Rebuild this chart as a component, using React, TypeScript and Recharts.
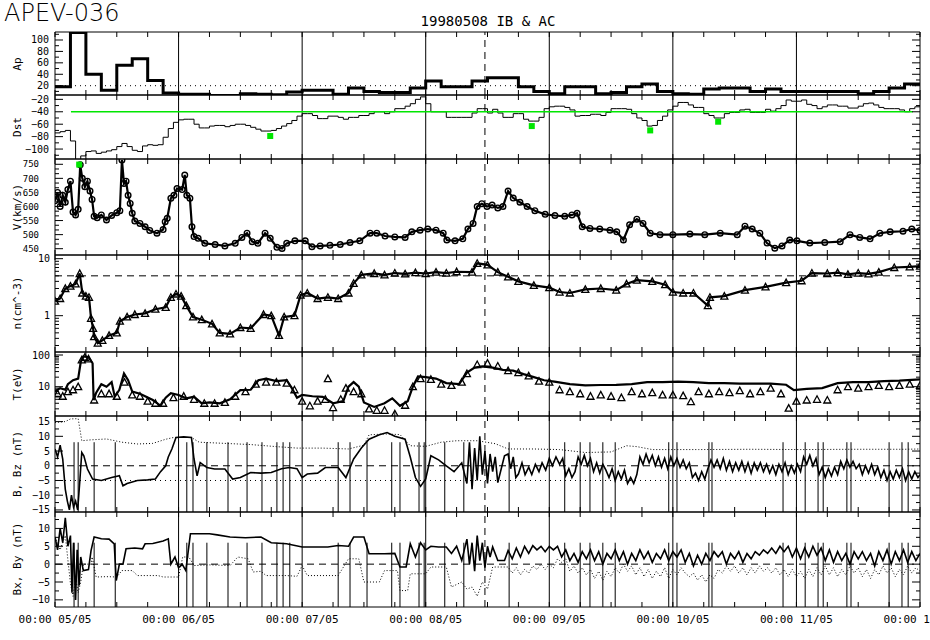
import React from 'react';
import { ComposedChart, Line, XAxis, YAxis, ReferenceLine, ReferenceArea } from 'recharts';

// ---- layout constants ----
const PLOT_L = 55;
const PLOT_R = 920;
const PAD = 3;
const HOURS = 168;
const MONO = '"DejaVu Sans Mono", "Liberation Mono", monospace';
const SANS = '"DejaVu Sans", "Liberation Sans", sans-serif';
const GREEN = '#00e600';

// ---- data (hours from 00:00 05/05) ----
const dayLabels = ['05/05', '06/05', '07/05', '08/05', '09/05', '10/05', '11/05', '12/05'];
const eventHour = 83.5;

// Ap, 3-hourly
const apValues = [18, 113, 40, 12, 56, 67, 29, 7, 5, 5, 3, 3, 6, 5, 4, 9, 12, 12, 5, 16, 10, 8, 8, 16, 28, 18, 18, 28,
  34, 34, 18, 10, 6, 18, 18, 6, 8, 18, 23, 10, 6, 5, 14, 16, 16, 10, 14, 10, 10, 10, 10, 10, 6, 10, 16, 23];

// Dst, hourly
const dstValues = [-74, -72, -70, -87, -125, -111, -104, -103, -107, -105, -103, -101, -96, -91, -96, -102, -104, -95, -93, -94,
  -93, -81, -67, -57, -53, -52, -52, -60, -66, -66, -63, -62, -62, -64, -62, -60, -60, -62, -65, -68, -71, -71, -70, -67,
  -63, -59, -54, -47, -43, -43, -46, -51, -51, -47, -47, -49, -52, -49, -49, -46, -46, -43, -40, -40, -43, -40, -35, -35,
  -31, -27, -20, -16, -27, -40, -40, -40, -49, -49, -49, -49, -49, -42, -35, -35, -42, -36, -42, -49, -49, -43, -43, -52,
  -55, -55, -49, -35, -32, -31, -31, -33, -37, -47, -46, -46, -44, -44, -46, -41, -35, -35, -35, -36, -43, -50, -54, -63,
  -62, -54, -47, -37, -31, -25, -25, -29, -33, -33, -43, -46, -50, -50, -43, -41, -41, -37, -36, -41, -41, -41, -36, -39,
  -35, -30, -21, -23, -23, -21, -28, -30, -35, -32, -29, -29, -31, -31, -34, -34, -31, -27, -26, -29, -33, -35, -35, -35,
  -37, -40, -35, -32];
const dstRefLevel = -40;
const dstRefSpan = [3.1, 166.6];
const dstMarks = [[41.8, -79], [92.6, -63], [115.6, -70], [128.8, -56]];

// solar wind speed
const vData = [[0, 620], [0.5, 650], [1, 600], [1.5, 640], [2, 615], [2.5, 660], [3, 690], [3.5, 580], [4, 570], [4.5, 590],
  [4.9, 748], [5.3, 700], [5.8, 670], [6.3, 690], [6.8, 655], [7.2, 625], [7.6, 565], [8.2, 560], [9, 570], [10, 552],
  [11, 568], [12, 578], [12.6, 585], [13, 765], [13.4, 682], [13.8, 690], [14.2, 640], [14.6, 611], [15, 576], [15.5, 548],
  [16.5, 540], [17.5, 528], [18.4, 515], [19.8, 505], [21, 518], [21.4, 546], [21.8, 558], [22.5, 629], [23.1, 640],
  [23.7, 664], [24.7, 660], [25.2, 712], [25.6, 640], [26.2, 629], [26.6, 528], [27, 493], [27.8, 487], [29.1, 469],
  [31.1, 465], [33, 460], [35, 469], [36.3, 490], [37.3, 505], [38.3, 475], [39.4, 469], [40.8, 505], [41.8, 487],
  [43.1, 455], [44.1, 451], [45, 469], [46.6, 478], [48.6, 478], [49.9, 457], [51.5, 460], [53.4, 462], [55.4, 465],
  [57.3, 472], [59.2, 478], [61.2, 505], [62.5, 505], [64.1, 495], [66, 492], [68, 490], [69.3, 510], [70.9, 516],
  [72.4, 520], [74, 516], [75.4, 505], [76.1, 481], [77.7, 478], [79.2, 485], [80.2, 520], [81.2, 540], [82, 600],
  [82.9, 610], [83.9, 600], [84.9, 605], [86, 595], [87, 600], [88, 655], [89, 630], [90.3, 615], [91.7, 600], [93.2, 585],
  [95.2, 572], [97.1, 568], [99, 565], [100.4, 570], [101.4, 576], [102.4, 528], [103.9, 522], [105.8, 520], [107.8, 516],
  [109.1, 510], [110.4, 481], [111.6, 535], [113, 555], [114.2, 540], [115.6, 505], [117.5, 500], [120, 500], [123.3, 502],
  [126.2, 500], [129.2, 505], [132.5, 500], [134, 530], [135.4, 520], [136.9, 505], [138.3, 470], [139.8, 452],
  [141.2, 460], [142.7, 481], [144.1, 478], [146.6, 470], [149.5, 472], [152.5, 475], [154.4, 500], [156.3, 490],
  [158.3, 485], [160.2, 505], [162.2, 510], [164.7, 512], [166.4, 520], [168, 515]];
const vMax = [[4.7, 749]];

// density
const nData = [[0, 1.8], [1, 2.0], [2, 3.0], [3, 3.3], [4, 3.6], [4.8, 5.5], [5.3, 2.5], [6, 2.2], [6.6, 2.1], [7, 0.9],
  [7.4, 0.6], [7.6, 0.43], [8.3, 0.33], [9.2, 0.37], [10.5, 0.45], [12, 0.5], [12.6, 0.8], [14, 0.95], [15.5, 1.05],
  [17.5, 1.1], [19.5, 1.3], [21.5, 1.4], [22.5, 2.1], [23.5, 2.4], [24.5, 2.2], [25.5, 1.5], [26.8, 0.95], [28.5, 0.85],
  [30.5, 0.72], [32, 0.5], [34, 0.48], [36, 0.62], [38, 0.6], [40.5, 1.05], [42, 1.0], [43.5, 0.45], [44.5, 0.95],
  [46.5, 1.0], [47.7, 2.3], [49, 2.5], [51, 2.0], [53, 2.1], [55, 2.0], [57, 2.5], [58, 3.7], [59.5, 5.2], [62, 5.5],
  [64, 5.2], [66, 5.6], [68, 5.4], [70, 5.7], [72, 5.5], [74, 5.8], [76, 5.6], [78, 5.9], [81, 5.8], [82, 8.3], [84, 7.8],
  [86, 5.8], [88, 4.8], [90, 4.0], [93, 3.4], [96, 3.1], [98, 2.6], [100, 2.5], [103, 2.9], [106, 3.0], [109, 2.8],
  [111, 3.6], [113, 4.2], [116, 4.0], [118.5, 3.5], [120, 2.6], [122, 2.5], [124, 2.5], [126.8, 1.5], [127.2, 2.1],
  [130, 2.2], [134, 2.8], [138, 3.2], [142, 3.8], [145, 4.1], [147, 5.6], [150, 5.5], [152, 5.7], [154, 5.3], [156, 5.6],
  [158, 5.4], [160, 5.8], [163, 7.0], [166, 7.2], [168, 7.4]];
const nRefLevel = 5;

// temperature (IB line) and AC triangles
const tData = [[0, 7], [1, 9], [2, 8], [2.5, 12], [3.5, 16], [4.5, 18], [5, 60], [5.5, 90], [6.5, 85], [7.3, 55], [7.5, 3.8],
  [8, 6.5], [9, 12], [10, 10], [11, 14], [11.6, 4.8], [12.5, 8], [13.4, 26], [14.2, 16], [15, 7], [16.5, 6], [17.5, 5],
  [19, 3.8], [20.5, 2.5], [21.5, 4.5], [22.5, 6.2], [24, 5.5], [25.5, 4.3], [27, 4.8], [28.5, 3], [30, 3.2], [32, 3.0],
  [34, 4], [36, 7.8], [38, 8], [39.5, 16], [41, 18], [43, 15], [45, 16], [46, 9], [47, 4.5], [48, 5.5], [50, 5], [52, 4.8],
  [54, 3], [56, 3.5], [57, 10], [58, 14], [59, 10], [60, 3.2], [62, 2.3], [64, 3], [65.5, 4.3], [67, 2.5], [68.5, 3.5],
  [69.5, 10], [70.5, 21], [72, 20], [74, 18], [76, 13], [78.5, 12], [80, 28], [81.5, 40], [83, 44], [85, 40], [87, 34],
  [89, 32], [91, 25], [93, 20], [95, 16], [97, 14.5], [100, 12], [103, 11], [106, 11.3], [109, 11.5], [112, 12], [115, 14],
  [118, 14], [121, 14.5], [124, 14], [127, 13], [130, 13], [133, 12.5], [136, 12.5], [139, 12.5], [142, 11.5],
  [143.5, 7.8], [146, 8.5], [149, 9], [152, 13], [155, 14], [158, 14], [161, 15], [164, 15.5], [168, 17]];
const tAce = [[0.5, 6], [1.5, 5], [2.5, 7], [3.5, 8], [4.5, 10], [5.2, 70], [5.8, 85], [6.5, 75], [7.6, 3.8], [9, 6],
  [10.5, 6], [12, 5], [13.5, 14], [15, 5.5], [16.5, 5], [18, 3.5], [19.5, 3], [21, 3], [23, 4.5], [25, 5], [27, 4], [29, 3],
  [31, 3], [33, 3.2], [35, 5], [37, 7], [39, 12], [41, 14], [43, 14], [45, 13], [46.5, 8], [48, 3.5], [49.5, 2.5],
  [51, 3.5], [52.5, 4], [53, 18], [54, 2.2], [55.5, 4], [56.5, 9], [58, 7], [59.5, 6], [61, 2.0], [62.5, 1.8], [64, 1.8],
  [66, 1.4], [68, 2.6], [69.5, 10], [71, 18], [73, 17], [75, 12], [77, 11], [79, 14], [80, 26], [82, 50], [84, 55],
  [86, 45], [88, 32], [90, 28], [92, 22], [94, 15], [96, 14], [98, 8], [100, 7], [102, 6], [104, 5], [106, 5.5], [108, 5],
  [110, 4.5], [112, 7], [114, 6], [116, 6.5], [118, 5.5], [120, 5.5], [122, 5.2], [123.5, 3.4], [125, 7], [127, 6],
  [129, 7], [131, 6.5], [133, 7.5], [135, 6], [137, 7], [139, 9], [141, 6], [142.5, 2.1], [144, 3.5], [146, 3.8], [148, 4],
  [150, 3.8], [152, 8], [154, 10], [156, 9], [158, 10], [160, 11], [162, 10], [164, 11], [166, 12], [168, 11]];

// magnetic field
const bzData = [[0, 5.7], [0.5, 3], [1, 7], [1.5, 2.3], [2, -8], [2.4, -12], [2.8, -15], [3.2, -10], [3.6, -14], [4, -12],
  [4.4, -15], [4.8, -5.7], [5.2, 4.5], [5.6, 3.4], [6.3, -1.1], [7.3, -4.5], [9, -5], [11, -4], [12.5, -3.4], [13.2, -6.8],
  [14, -6], [16, -5], [18, -4.8], [19.5, -4.5], [20.5, -2], [21.5, 0], [22, 3], [22.7, 5.7], [23.5, 9.6], [25, 9.8],
  [26.5, 9.6], [27, 2.3], [27.6, -3.4], [28.2, 1.1], [29.5, -0.6], [31, -1.1], [33, -1.1], [34.5, -4.5], [36, -4],
  [38, -2.3], [40, -2.5], [42, -2.3], [44, -1], [45.5, -0.6], [47, -1], [48, -4], [49, -2.8], [51, -2.5], [52.5, -0.6],
  [55, -0.6], [56.5, -4], [58, 2.3], [59.5, 6], [61, 9], [63, 10.5], [64.5, 11.3], [66, 10], [68, 9], [69, 3], [70, -4],
  [71, -7], [72, -4.5], [73, 3.4], [74.5, 2], [76, 0], [77.5, -2], [79, 1], [80, -6], [80.5, 8], [81, -8], [81.5, 6],
  [82, -5], [82.5, 10], [83, -3], [83.5, 5], [84, -6], [84.5, 4], [85, -2], [85.5, 3], [86, -5.7], [87.3, 3.4],
  [88, 4], [88.5, -1], [89, 3], [89.5, -4], [90, -2.8], [90.7, 1], [91.3, -3], [92, -0.5], [92.6, -3], [93.3, 0.5], [94, -2],
  [94.6, 1], [95.3, -1.5], [96, 2.5], [96.6, 0], [97.3, 3], [98, 0.5], [98.6, 2.5], [99.2, -3.4], [99.8, -1], [100.4, -4],
  [101, -2], [101.6, 3], [102.2, 0.5], [102.8, 3.5], [103.4, 0], [104, 2.5], [104.6, -2], [105.2, 1], [105.8, -2.5],
  [106.4, 0.5], [107, -1.5], [107.6, -4], [108.2, -1], [108.8, -5], [109.4, -2], [110, -4.5], [110.6, -1.5], [111.2, -6],
  [111.8, -4], [112.4, -6], [113, -3], [113.6, 3], [114.2, 0.5], [114.8, 4], [115.4, 1], [116, 3.5], [116.6, 0], [117.2, 3],
  [117.8, -0.5], [118.4, 2.5], [119, -1], [119.6, 3], [120.2, 0], [120.8, 2.5], [121.4, -0.5], [122, 2], [122.6, -1],
  [123.2, 1], [123.8, -4], [124.4, -2.5], [125, -5], [125.6, -2], [126.2, -4.5], [126.8, -1], [127.4, 2], [128, -0.5],
  [128.6, 2], [129.2, -1], [129.8, 2.5], [130.4, -1.5], [131, 1.5], [131.6, -2], [132.2, 1], [132.8, -1.5], [133.4, 1.5],
  [134, -2], [134.6, 1], [135.2, -2.5], [135.8, 1], [136.4, -1.5], [137, 1], [137.6, -2], [138.2, 0.5], [138.8, -2.5],
  [139.4, 0], [140, -3], [140.6, 0.5], [141.2, -2], [141.8, 1], [142.4, -3], [143, 0], [143.6, -2.5], [144.2, 0.5],
  [144.8, -2], [145.4, 3], [146, 0.5], [146.6, 3.5], [147.2, 0], [147.8, 2.5], [148.4, -3], [149, -0.5], [149.6, -4],
  [150.2, -1], [150.8, -3.5], [151.4, -0.5], [152, -3], [152.6, 1.5], [153.2, -1], [153.8, 2], [154.4, -0.5], [155, 1.5],
  [155.6, -1], [156.2, 0.5], [156.8, -3], [157.4, 0], [158, -2.5], [158.6, 0.5], [159.2, -3], [159.8, -0.5], [160.4, -4],
  [161, -1.5], [161.6, -5], [162.2, -2], [162.8, -4.5], [163.4, -1.5], [164, -4], [164.6, -1], [165.2, -5], [165.8, -2],
  [166.4, -4.5], [167, -2], [167.6, -4], [168, -3]];
const bData = [[0, 14.7], [2, 15], [3, 15.9], [4.5, 16], [5.2, 8.5], [7, 8.8], [10, 9.1], [13, 8], [16, 7.4], [19, 7.6],
  [21.5, 9], [23, 9.6], [26.5, 9.6], [28, 8], [33, 7.6], [38, 7.2], [43, 6.5], [47, 6], [52, 6], [57, 5.7], [60, 7],
  [61, 10.5], [64, 10.8], [67, 10.6], [69, 6.8], [72, 6.6], [75, 8], [78, 8.5], [82, 8.5], [85.5, 7.5], [88, 5.7],
  [93, 5.7], [98, 5.5], [103, 4.5], [108, 4.7], [111, 6.8], [113, 6.5], [116, 5.5], [125, 5.5], [135, 5.6], [145, 5.5],
  [155, 5.6], [165, 5.6], [168, 5.7]];
const bxData = [[0, 7.6], [0.5, 4], [1, 10], [1.5, 6], [2, 13], [2.5, 5], [3, 8], [3.3, -8], [3.6, 6], [4, -10], [4.3, 4],
  [4.7, -6], [5, 2], [5.5, -1.8], [6.5, -1.5], [7, 3.8], [7.6, 7.6], [9, 7.1], [10.5, 7], [11.5, 5.7], [11.9, -4.6],
  [12.5, 0], [13.2, 0], [13.8, 4.3], [15.5, 4.5], [17, 4.3], [17.5, 5.7], [19, 5.8], [21, 6.5], [22, 7.1], [22.5, 0],
  [23.3, 2], [24, -1], [24.7, 0], [25.4, -1.8], [26.3, 8.5], [28, 8.5], [30, 8.5], [31.5, 8.2], [34, 7.6], [37, 7.4],
  [40, 7.6], [42, 6], [45, 5.7], [48, 4.8], [50, 4.8], [53, 4.8], [55, 5.2], [57, 5], [58, 7.6], [60, 7.6], [61, 2.9],
  [64, 2.9], [66, 3], [67, -0.8], [68.2, -0.8], [69, 5.7], [70, 2], [71, 6], [72, 4], [73, 5], [74.5, 4.8], [76, 4.8],
  [77, 3], [78, 5], [79, 1], [80, 7], [80.5, 0], [81, 6], [81.5, -2], [82, 8], [82.5, 1], [83, 6], [83.5, -1], [84, 5],
  [84.5, 2], [85, 4.8], [86, 1], [87.3, 1], [88, 3.8], [88.8, 1.5], [89.6, 4.5], [90.4, 2], [91.2, 5], [92, 3], [92.8, 5.2],
  [93.6, 4], [94.4, 5], [95.2, 3.5], [96, 5], [96.8, 4], [97.6, 5], [98.4, 2], [99.2, 4], [100, 1], [100.8, 3], [101.6, 0.5],
  [102.4, 3.5], [103.2, 1.5], [104, 4], [104.8, 1], [105.6, 3.5], [106.4, 0], [107.2, 3], [108, 1.5], [108.8, 4],
  [109.6, 1], [110.4, 3.5], [111.2, 0], [112, 3], [112.8, 1], [113.6, 4], [114.4, 1.5], [115.2, 3.5], [116, 0.5], [116.8, 3],
  [117.6, 1.5], [118.4, 4], [119.2, 1], [120, 3.5], [120.8, 2], [121.6, 4], [122.4, 0.5], [123.2, 3], [124, -0.5],
  [124.8, 2.5], [125.6, 0], [126.4, 3], [127.2, 1], [128, 3.5], [128.8, 2], [129.6, 3.5], [130.4, 0], [131.2, 3], [132, 1.5],
  [132.8, 3.5], [133.6, 0.5], [134.4, 3], [135.2, 1.5], [136, 3.5], [136.8, 2.5], [137.6, 4], [138.4, 3], [139.2, 4.5],
  [140, 3], [140.8, 5], [141.6, 3.5], [142.4, 5], [143.2, 2], [144, 4.5], [144.8, 1.5], [145.6, 4.5], [146.4, 2], [147.2, 5],
  [148, 2.5], [148.8, 4.5], [149.6, 1], [150.4, 4], [151.2, 0.5], [152, 3.5], [152.8, 1], [153.6, 3], [154.4, 0],
  [155.2, 3.5], [156, 1.5], [156.8, 3.5], [157.6, 1], [158.4, 3], [159.2, -0.5], [160, 3.5], [160.8, 1], [161.6, 4],
  [162.4, 0], [163.2, 3.5], [164, 1], [164.8, 4], [165.6, 0.5], [166.4, 3.5], [167.2, 1], [168, 3]];
const byData = [[0, 7.6], [1, 4], [2, 8], [3, -5.5], [3.5, -9], [4, -4], [4.5, -8], [5, -5], [5.5, 0], [7, 0], [7.2, 2],
  [8, -3.6], [10, -3.5], [12, -3.6], [13, -1.8], [15, -1.8], [16, -3.2], [20, -3.2], [21, -3.6], [24, -3.6], [24.8, 2],
  [26, 2], [27, -0.4], [30, -0.2], [34, -0.4], [35.5, 2], [37.5, 1.5], [38.5, -2.2], [40, -2], [41, -3.2], [45, -3.2],
  [47, -3.4], [48, -0.4], [49, -3.2], [52, -3.2], [55, -3.2], [57, 1.5], [59, 1.5], [60, -5], [63, -5], [64, -1.8],
  [66.5, -1.8], [67, -7.4], [68.5, -7.4], [69, -2.7], [72, -2.7], [73, -0.8], [76, -0.8], [77, -6.4], [79, -5], [80, -7],
  [81, -6.4], [82, -9], [83, -5], [84, -7], [85, -0.8], [88, -0.8], [88.8, -2.5], [89.6, -1], [90.4, -3], [91.2, -1.5],
  [92, -2.5], [92.8, -0.5], [93.6, -1.5], [94.4, 0], [95.2, -1.5], [96, 0], [96.8, -1], [97.6, 1.5], [98.4, 0.5],
  [99.2, 1.5], [100, -2], [100.8, -0.5], [101.6, -2.5], [102.4, -1], [103.2, -3], [104, -1.5], [104.8, -4], [105.6, -2],
  [106.4, -4.5], [107.2, -2], [108, -3.5], [108.8, -1], [109.6, -2.5], [110.4, 0], [111.2, -2], [112, -0.5], [112.8, -3],
  [113.6, -1], [114.4, -3.5], [115.2, -1.5], [116, -4], [116.8, -2], [117.6, -3.5], [118.4, -1], [119.2, -4], [120, -1.5],
  [120.8, -3], [121.6, -1], [122.4, -2.5], [123.2, -3.5], [124, -2.5], [124.8, -4.5], [125.6, -3], [126.4, -5], [127.2, -3],
  [128, -4], [128.8, -1.5], [129.6, -2.5], [130.4, -0.5], [131.2, -2], [132, -0.5], [132.8, -2.5], [133.6, -1], [134.4, -3],
  [135.2, -1], [136, -2.5], [136.8, -0.5], [137.6, -2], [138.4, -1], [139.2, -2.5], [140, -1], [140.8, -3], [141.6, -1.5],
  [142.4, -3.5], [143.2, -1.5], [144, -3.5], [144.8, -2], [145.6, -4], [146.4, -1.5], [147.2, -3.5], [148, -1], [148.8, -3],
  [149.6, -0.5], [150.4, -3], [151.2, -1], [152, -3.5], [152.8, -1.5], [153.6, -3], [154.4, -0.5], [155.2, -2.5],
  [156, -1], [156.8, -3.5], [157.6, -1.5], [158.4, -4], [159.2, -1.5], [160, -3], [160.8, -0.5], [161.6, -2.5], [162.4, -1],
  [163.2, -3.5], [164, -1.5], [164.8, -3], [165.6, -0.5], [166.4, -2.5], [167.2, -1], [168, -2]];
const gapHours = [3.7, 4.5, 7.6, 11.7, 25.6, 26.8, 29.5, 33.6, 37.3, 40.2, 43.1, 44.3, 45.6, 55, 57.3, 60.6, 65.4, 67,
  70.7, 71.7, 75.7, 79.4, 88.2, 99, 102, 103.9, 106.4, 108.8, 119.2, 120.8, 127, 127.6, 141.4, 145.7, 148.2, 149.2,
  153.8, 154.6, 162, 164.5, 165.7];

// ---- helpers ----
type Pt = { t: number; v: number };
const pts = (a: number[][]): Pt[] => a.map(([t, v]) => ({ t, v }));
const stepPts = (vals: number[], dt: number): Pt[] => [
  ...vals.map((v, i) => ({ t: i * dt, v })),
  { t: HOURS, v: vals[vals.length - 1] },
];
const range = (a: number, b: number, s: number) => {
  const r: number[] = [];
  for (let v = a; v <= b + 1e-9; v += s) r.push(+v.toFixed(4));
  return r;
};
const fmt = (v: number) => (v < 0 ? '\u2212' + Math.abs(v) : String(v));

const xTicks = range(0, HOURS, 6);
const dayLines = range(24, 144, 24);

const makeXTick = (h: number, labels: boolean) => (props: any) => {
  const { x, y, payload } = props;
  const v = payload.value;
  const day = Math.abs(v % 24) < 1e-6;
  return (
    <g>
      <line x1={x} y1={y} x2={x} y2={y - 5} stroke="#000" />
      <line x1={x} y1={y - h} x2={x} y2={y - h + 5} stroke="#000" />
      {labels && day && (
        <text x={x} y={y + 16} textAnchor="middle" fontFamily={MONO} fontSize={11} fill="#000">
          {'00:00 ' + dayLabels[Math.round(v / 24)]}
        </text>
      )}
    </g>
  );
};

const makeYTick = (majors: number[], labelRight: number, fontSize: number) => (props: any) => {
  const { y, payload } = props;
  const v = payload.value;
  const major = majors.some((m) => Math.abs(m - v) < 1e-6);
  const len = major ? 8 : 4;
  return (
    <g>
      <line x1={PLOT_L} y1={y} x2={PLOT_L + len} y2={y} stroke="#000" />
      <line x1={PLOT_R} y1={y} x2={PLOT_R - len} y2={y} stroke="#000" />
      {major && (
        <text x={labelRight} y={y} dy="0.35em" textAnchor="end" fontFamily={MONO} fontSize={fontSize} fill="#000">
          {fmt(v)}
        </text>
      )}
    </g>
  );
};

const circleDot = (props: any) => {
  const { cx, cy, index } = props;
  if (cx == null || cy == null) return <g key={index} />;
  return <circle key={index} cx={cx} cy={cy} r={2.8} fill="none" stroke="#000" strokeWidth={1.4} />;
};
const triDot = (props: any) => {
  const { cx, cy, index } = props;
  if (cx == null || cy == null) return <g key={index} />;
  return (
    <path key={index} d={`M${cx - 3.5},${cy + 3}L${cx},${cy - 3.5}L${cx + 3.5},${cy + 3}Z`}
      fill="none" stroke="#000" strokeWidth={1.3} />
  );
};
const squareDot = (props: any) => {
  const { cx, cy, index } = props;
  if (cx == null || cy == null) return <g key={index} />;
  return <rect key={index} x={cx - 3} y={cy - 3} width={6} height={6} fill={GREEN} />;
};

type PanelProps = {
  top: number;
  height: number;
  domain: [number, number];
  scale?: 'linear' | 'log';
  ticks: number[];
  majors: number[];
  labelRight?: number;
  labelSize?: number;
  last?: boolean;
  children?: React.ReactNode;
};

function Panel({ top, height, domain, scale = 'linear', ticks, majors, labelRight = 50, labelSize = 10, last = false, children }: PanelProps) {
  const bottom = last ? 26 : PAD;
  return (
    <div style={{ position: 'absolute', left: 0, top: top - PAD }}>
      <ComposedChart width={930} height={height + PAD + bottom}
        margin={{ top: PAD, right: 930 - PLOT_R, bottom: bottom - 1, left: 0 }}>
        <XAxis type="number" dataKey="t" domain={[0, HOURS]} allowDataOverflow ticks={xTicks} interval={0}
          height={1} tickSize={0} tickMargin={0} axisLine={false} tickLine={false} tick={makeXTick(height, last)} />
        <YAxis type="number" domain={domain} scale={scale} allowDataOverflow ticks={ticks} interval={0}
          width={PLOT_L} tickSize={0} tickMargin={0} axisLine={false} tickLine={false}
          tick={makeYTick(majors, labelRight, labelSize)} />
        <ReferenceArea x1={0} x2={HOURS} y1={domain[0]} y2={domain[1]} fill="none" fillOpacity={0}
          stroke="#000" strokeWidth={1} ifOverflow="visible" />
        {dayLines.map((h) => (
          <ReferenceLine key={'d' + h} x={h} stroke="#000" strokeWidth={1} />
        ))}
        <ReferenceLine x={eventHour} stroke="#000" strokeDasharray="7 5" />
        {children}
      </ComposedChart>
    </div>
  );
}

const nTicks = [...range(0.3, 0.9, 0.1), ...range(1, 9, 1), 10];
const tTicks = [...range(2, 9, 1), ...range(10, 90, 10), 100];

export default function App() {
  return (
    <div style={{ position: 'absolute', left: 0, top: 0, width: 930, height: 640, background: '#fff', overflow: 'hidden' }}>
      <svg width={930} height={640} style={{ position: 'absolute', left: 0, top: 0 }}>
        <text x={4} y={21} fontFamily={SANS} fontSize={24} fill="#000" style={{ fontWeight: 300 }}>APEV-036</text>
        <text x={488} y={26} textAnchor="middle" fontFamily={MONO} fontSize={14} fill="#000">19980508 IB &amp; AC</text>
        {[
          ['Ap', 64],
          ['Dst', 127],
          ['V(km/s)', 207],
          ['n(cm^-3)', 303],
          ['T(eV)', 384],
          ['B, Bz (nT)', 464],
          ['Bx, By (nT)', 559],
        ].map(([s, y]) => (
          <text key={s as string} x={0} y={0} transform={`translate(21,${y}) rotate(-90)`} textAnchor="middle"
            fontFamily={MONO} fontSize={11} fill="#000">
            {s}
          </text>
        ))}
      </svg>

      <Panel top={32} height={63} domain={[3.7, 114]} ticks={range(10, 110, 10)} majors={[20, 40, 60, 80, 100]} labelRight={49}>
        <ReferenceLine y={20} stroke="#000" strokeDasharray="1 4" />
        <Line type="stepAfter" data={stepPts(apValues, 3)} dataKey="v" stroke="#000" strokeWidth={3} dot={false}
          isAnimationActive={false} />
      </Panel>

      <Panel top={95} height={64} domain={[-116, -13]} ticks={range(-110, -20, 10)} majors={[-100, -80, -60, -40, -20]} labelRight={49}>
        <Line type="stepAfter" data={stepPts(dstValues, 1)} dataKey="v" stroke="#000" strokeWidth={1} dot={false}
          isAnimationActive={false} />
        <ReferenceLine segment={[{ x: dstRefSpan[0], y: dstRefLevel }, { x: dstRefSpan[1], y: dstRefLevel }]}
          stroke={GREEN} strokeWidth={1.5} />
        <Line data={pts(dstMarks)} dataKey="v" stroke="none" dot={squareDot} isAnimationActive={false} />
      </Panel>

      <Panel top={159} height={96} domain={[427.6, 768.8]} ticks={range(450, 750, 50 / 3)} majors={range(450, 750, 50)}
        labelRight={39} labelSize={9}>
        <Line type="linear" data={pts(vData)} dataKey="v" stroke="#000" strokeWidth={2.2} dot={circleDot}
          isAnimationActive={false} />
        <Line data={pts(vMax)} dataKey="v" stroke="none" dot={squareDot} isAnimationActive={false} />
      </Panel>

      <Panel top={255} height={97} domain={[0.2307, 11.6]} scale="log" ticks={nTicks} majors={[1, 10]}>
        <ReferenceLine y={nRefLevel} stroke="#000" strokeDasharray="7 5" />
        <Line type="linear" data={pts(nData)} dataKey="v" stroke="#000" strokeWidth={2.2} dot={triDot}
          isAnimationActive={false} />
      </Panel>

      <Panel top={352} height={64} domain={[1.19, 124.4]} scale="log" ticks={tTicks} majors={[10, 100]}>
        <Line type="linear" data={pts(tData)} dataKey="v" stroke="#000" strokeWidth={2.2} dot={false}
          isAnimationActive={false} />
        <Line data={pts(tAce)} dataKey="v" stroke="none" dot={triDot} isAnimationActive={false} />
      </Panel>

      <Panel top={416} height={96} domain={[-15.7, 16.9]} ticks={range(-15, 15, 2.5)} majors={range(-15, 15, 5)}>
        <ReferenceLine y={0} stroke="#000" strokeDasharray="7 5" />
        <ReferenceLine y={-5} stroke="#000" strokeDasharray="1 4" />
        {gapHours.map((h) => (
          <ReferenceLine key={'g' + h} segment={[{ x: h, y: 8 }, { x: h, y: -15.7 }]} stroke="#000" />
        ))}
        <Line type="linear" data={pts(bData)} dataKey="v" stroke="#000" strokeWidth={1} strokeDasharray="1 2"
          dot={false} isAnimationActive={false} />
        <Line type="linear" data={pts(bzData)} dataKey="v" stroke="#000" strokeWidth={1.6} dot={false}
          isAnimationActive={false} />
      </Panel>

      <Panel top={512} height={95} domain={[-12, 14.6]} ticks={range(-10, 12.5, 2.5)} majors={range(-10, 10, 5)} last>
        <ReferenceLine y={0} stroke="#000" strokeDasharray="7 5" />
        {gapHours.map((h) => (
          <ReferenceLine key={'g' + h} segment={[{ x: h, y: 6 }, { x: h, y: -12 }]} stroke="#000" />
        ))}
        <Line type="linear" data={pts(byData)} dataKey="v" stroke="#000" strokeWidth={1} strokeDasharray="1 2"
          dot={false} isAnimationActive={false} />
        <Line type="linear" data={pts(bxData)} dataKey="v" stroke="#000" strokeWidth={1.6} dot={false}
          isAnimationActive={false} />
      </Panel>
    </div>
  );
}
